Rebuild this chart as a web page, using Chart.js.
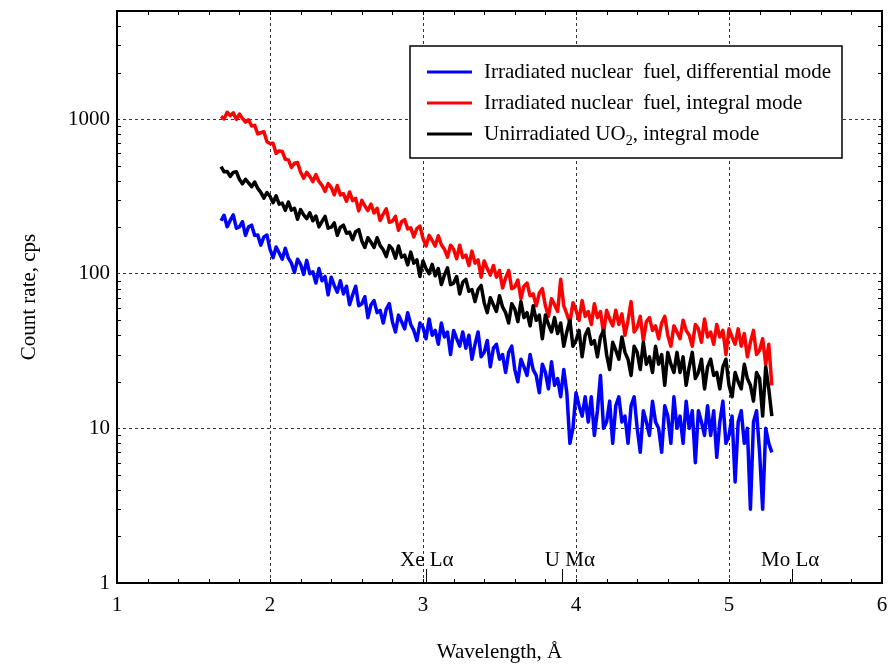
<!DOCTYPE html>
<html>
<head>
<meta charset="utf-8">
<script src="https://cdn.jsdelivr.net/npm/chart.js@4"></script>
<style>
  html, body { margin: 0; padding: 0; background: #fff; }
</style>
</head>
<body>
<canvas id="spectrum" width="888" height="666"></canvas>
<script>
// wavelength grid of the spectra (Å): 1.68 ... 5.28
const wlStart = 1.68;
const wlStep = 0.02;

// count rates, cps (10 points per 0.2 Å)
const blueDiff = [
  220, 239, 201, 221, 240, 197, 201, 217, 177, 201,
  206, 177, 178, 153, 173, 178, 144, 127, 149, 136,
  124, 146, 126, 117, 102, 124, 115, 99, 122, 100,
  103, 87, 108, 90, 96, 73, 95, 84, 76, 90,
  74, 83, 63, 73, 83, 62, 64, 71, 52, 63,
  67, 56, 58, 48, 59, 64, 49, 42, 54, 49,
  44, 56, 47, 43, 37, 48, 45, 38, 51, 40,
  43, 35, 48, 39, 42, 30, 43, 38, 34, 42,
  33, 40, 28, 35, 42, 29, 31, 37, 25, 33,
  35, 28, 30, 23, 31, 34, 24, 20, 28, 25,
  22, 30, 24, 22, 17, 26, 23, 18, 27, 19,
  21, 16, 24, 17, 8, 10, 17, 14, 12, 16,
  11, 16, 9, 13, 22, 10, 11, 15, 8, 14,
  16, 11, 12, 8, 14, 16, 10, 7, 13, 11,
  9, 15, 11, 10, 7, 14, 12, 8, 16, 10,
  12, 8, 15, 10, 13, 6, 13, 11, 9, 14,
  9, 13, 6.5, 11, 15, 8, 9, 12, 4.5, 11,
  13, 8, 10, 3, 11, 13, 7, 3, 10, 8,
  7
];
const redInt = [
  1042, 1003, 1107, 1054, 1096, 996, 1077, 1010, 956, 990,
  901, 911, 802, 816, 829, 714, 695, 698, 600, 623,
  617, 550, 545, 487, 518, 524, 453, 414, 452, 426,
  394, 437, 395, 373, 341, 383, 362, 324, 372, 323,
  329, 294, 338, 297, 307, 255, 298, 274, 256, 282,
  247, 265, 221, 243, 263, 215, 219, 235, 191, 217,
  224, 195, 198, 173, 196, 203, 169, 151, 177, 164,
  151, 176, 154, 144, 128, 153, 144, 125, 153, 127,
  132, 113, 140, 117, 123, 95, 121, 108, 98, 113,
  95, 105, 81, 94, 105, 80, 82, 91, 69, 83,
  87, 72, 74, 62, 75, 80, 62, 53, 69, 63,
  57, 92, 62, 55, 48, 65, 58, 50, 67, 53,
  57, 47, 64, 52, 57, 41, 58, 51, 46, 58,
  47, 55, 40, 50, 66, 42, 45, 53, 37, 49,
  52, 43, 46, 38, 48, 53, 40, 34, 46, 42,
  38, 50, 43, 40, 34, 47, 44, 36, 51, 39,
  42, 35, 47, 39, 43, 30, 44, 39, 35, 44,
  34, 41, 29, 36, 43, 30, 32, 38, 26, 35,
  19
];
const blackInt = [
  493, 456, 458, 426, 452, 457, 408, 381, 408, 387,
  365, 392, 356, 336, 308, 335, 317, 288, 319, 282,
  286, 257, 291, 258, 265, 225, 260, 240, 227, 248,
  220, 236, 201, 218, 235, 197, 200, 213, 177, 200,
  206, 183, 186, 166, 187, 193, 163, 148, 171, 160,
  148, 171, 152, 143, 129, 152, 144, 126, 151, 128,
  132, 114, 138, 117, 123, 96, 121, 108, 100, 115,
  97, 108, 85, 98, 109, 85, 87, 96, 74, 88,
  92, 77, 79, 66, 79, 84, 65, 56, 70, 63,
  57, 72, 61, 56, 48, 64, 59, 49, 66, 52,
  56, 46, 62, 50, 54, 38, 54, 47, 42, 52,
  41, 48, 34, 42, 50, 34, 37, 43, 29, 40,
  44, 35, 37, 29, 39, 43, 30, 24, 36, 32,
  28, 39, 31, 28, 22, 34, 31, 24, 36, 26,
  29, 23, 34, 26, 30, 19, 31, 26, 23, 31,
  23, 29, 19, 25, 31, 21, 23, 28, 18, 25,
  28, 22, 23, 18, 25, 28, 19, 16, 23, 20,
  18, 26, 21, 19, 15, 23, 21, 12, 25, 18,
  12
];

const seriesLabels = [
  'Irradiated nuclear  fuel, differential mode',
  'Irradiated nuclear  fuel, integral mode',
  'Unirradiated UO₂, integral mode'
];
const seriesColors = ['#0000ff', '#ff0000', '#000000'];

const yTicks = [1, 10, 100, 1000];
const lineNames = ['Xe Lα', 'U Mα', 'Mo Lα'];
const lineWl = [3.02, 3.91, 5.41];
const lineNameWl = [3.025, 3.96, 5.40];

const FONT = '"Liberation Serif", "Times New Roman", serif';
const wavelength = blueDiff.map((_, i) => +(wlStart + i * wlStep).toFixed(3));
const toPoints = vals => vals.map((v, i) => ({ x: wavelength[i], y: v }));

const decor = {
  id: 'decor',
  afterDraw(chart) {
    const { ctx, chartArea: a, scales: { x, y } } = chart;
    const seg = (x1, y1, x2, y2) => { ctx.beginPath(); ctx.moveTo(x1, y1); ctx.lineTo(x2, y2); ctx.stroke(); };
    ctx.save();
    ctx.strokeStyle = '#000';
    ctx.lineWidth = 1;
    // minor ticks, inside the frame
    for (let k = 1; k < 25; k++) {
      const px = Math.round(x.getPixelForValue(1 + k * 0.2)) + 0.5;
      seg(px, a.bottom, px, a.bottom - 4);
      seg(px, a.top, px, a.top + 4);
    }
    for (const d of [1, 10, 100, 1000]) {
      for (let m = 2; m <= 9; m++) {
        const v = d * m;
        if (v > 5000) break;
        const py = Math.round(y.getPixelForValue(v)) + 0.5;
        seg(a.left, py, a.left + 4, py);
        seg(a.right, py, a.right - 4, py);
      }
    }
    // frame
    ctx.lineWidth = 2;
    ctx.strokeRect(a.left, a.top, a.right - a.left, a.bottom - a.top);

    // characteristic lines
    ctx.lineWidth = 1;
    ctx.fillStyle = '#000';
    ctx.font = '21px ' + FONT;
    ctx.textAlign = 'center';
    ctx.textBaseline = 'alphabetic';
    lineWl.forEach((wl, i) => {
      const px = Math.round(x.getPixelForValue(wl)) + 0.5;
      seg(px, a.bottom, px, a.bottom - 14);
      ctx.fillText(lineNames[i], x.getPixelForValue(lineNameWl[i]), a.bottom - 17);
    });

    // legend box
    const bx = 410, by = 46, bw = 432, bh = 112;
    ctx.fillStyle = '#fff';
    ctx.fillRect(bx, by, bw, bh);
    ctx.lineWidth = 1.5;
    ctx.strokeRect(bx, by, bw, bh);
    ctx.textAlign = 'left';
    chart.data.datasets.forEach((ds, i) => {
      const ry = 72 + i * 31;
      ctx.strokeStyle = ds.borderColor;
      ctx.lineWidth = 3;
      seg(427, ry, 472, ry);
      ctx.fillStyle = '#000';
      let tx = 484;
      const parts = ds.label.split('₂');
      parts.forEach((p, j) => {
        ctx.font = '21px ' + FONT;
        ctx.fillText(p, tx, ry + 6);
        tx += ctx.measureText(p).width;
        if (j < parts.length - 1) {
          ctx.font = '14px ' + FONT;
          ctx.fillText('2', tx, ry + 11);
          tx += ctx.measureText('2').width;
        }
      });
    });
    ctx.restore();
  }
};

const axisFont = { family: FONT, size: 21 };

new Chart(document.getElementById('spectrum'), {
  type: 'line',
  data: {
    datasets: [
      { label: seriesLabels[0], data: toPoints(blueDiff), borderColor: seriesColors[0], order: 0 },
      { label: seriesLabels[1], data: toPoints(redInt), borderColor: seriesColors[1], order: 2 },
      { label: seriesLabels[2], data: toPoints(blackInt), borderColor: seriesColors[2], order: 1 }
    ]
  },
  options: {
    responsive: false,
    animation: false,
    devicePixelRatio: 1,
    layout: { padding: { top: 11, right: 6, left: 0, bottom: 0 } },
    plugins: { legend: { display: false }, tooltip: { enabled: false } },
    elements: {
      point: { radius: 0 },
      line: { borderWidth: 3.5, tension: 0, fill: false, borderJoinStyle: 'round' }
    },
    scales: {
      x: {
        type: 'linear',
        min: 1,
        max: 6,
        ticks: { stepSize: 1, padding: 10, color: '#000', font: axisFont },
        grid: { color: '#333', lineWidth: 1, drawTicks: false },
        border: { display: false, dash: [3, 3] },
        title: { display: true, text: 'Wavelength, Å', color: '#000', font: axisFont, padding: { top: 0, bottom: 1 } },
        afterFit: s => { s.height = 83; s.paddingLeft = 0; s.paddingRight = 0; }
      },
      y: {
        type: 'logarithmic',
        min: 1,
        max: 5000,
        afterBuildTicks: s => { s.ticks = yTicks.map(v => ({ value: v })); },
        ticks: { padding: 7, color: '#000', font: axisFont, callback: v => String(v) },
        grid: { color: '#333', lineWidth: 1, drawTicks: false },
        border: { display: false, dash: [3, 3] },
        title: { display: true, text: 'Count rate, cps', color: '#000', font: axisFont, padding: { top: 17, bottom: 0 } },
        afterFit: s => { s.width = 117; s.paddingTop = 0; s.paddingBottom = 0; }
      }
    }
  },
  plugins: [decor]
});
</script>
</body>
</html>
